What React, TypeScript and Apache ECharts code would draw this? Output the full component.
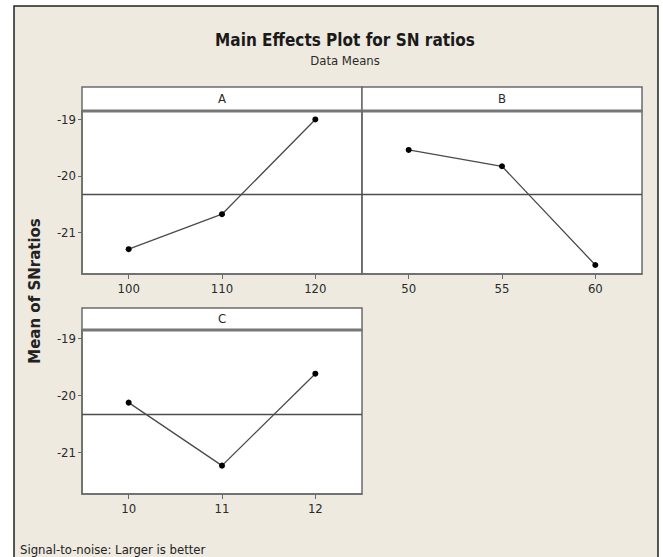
import React, { useEffect, useRef } from "react";
import * as echarts from "echarts";

const levelsA = ["100", "110", "120"];
const valuesA = [-21.3, -20.68, -19.0];
const levelsB = ["50", "55", "60"];
const valuesB = [-19.54, -19.83, -21.58];
const levelsC = ["10", "11", "12"];
const valuesC = [-20.13, -21.24, -19.62];
const yTicks = [-21, -20, -19];
const overallMean = -20.33;
const panelNames = ["A", "B", "C"];

const FONT = '"DejaVu Sans Condensed", "Liberation Sans Narrow", "DejaVu Sans", sans-serif';
const BG = "#EEEAE0";
const FRAME = "#6b6b6b";

export default function App() {
  const ref = useRef<HTMLDivElement>(null);
  useEffect(() => {
    if (!ref.current) return;
    const chart = echarts.init(ref.current, null, { renderer: "svg" });
    const grids = [
      { left: 82, top: 111, width: 280, height: 163 },
      { left: 362, top: 111, width: 280, height: 163 },
      { left: 82, top: 330, width: 280, height: 164 },
    ];
    const levels = [levelsA, levelsB, levelsC];
    const values = [valuesA, valuesB, valuesC];
    const strips = [
      { x: 82, y: 87, w: 280, h: 24 },
      { x: 362, y: 87, w: 280, h: 24 },
      { x: 82, y: 308, w: 280, h: 22 },
    ];
    const option: any = {
      animation: false,
      backgroundColor: "#ffffff",
      title: [
        {
          text: "Main Effects Plot for SN ratios",
          subtext: "Data Means",
          left: 340,
          textAlign: "center",
          top: 26,
          itemGap: 6,
          textStyle: { fontFamily: FONT, fontSize: 17, fontWeight: "bold", color: "#1a1a1a" },
          subtextStyle: { fontFamily: FONT, fontSize: 13, color: "#2a2a2a" },
        },
        {
          text: "Signal-to-noise: Larger is better",
          left: 15,
          top: 538,
          textStyle: { fontFamily: FONT, fontSize: 13, fontWeight: "normal", color: "#222" },
        },
      ],
      grid: grids.map((g) => ({
        ...g,
        show: true,
        backgroundColor: "#ffffff",
        borderColor: FRAME,
        borderWidth: 1.5,
        containLabel: false,
      })),
      xAxis: levels.map((lv, i) => ({
        type: "category",
        gridIndex: i,
        data: lv,
        boundaryGap: true,
        axisLine: { show: true, lineStyle: { color: FRAME, width: 1.5 } },
        axisTick: { show: true, alignWithLabel: true, length: 5, lineStyle: { color: FRAME } },
        axisLabel: { fontFamily: FONT, fontSize: 13, color: "#2a2a2a", margin: 8 },
        splitLine: { show: false },
      })),
      yAxis: levels.map((_, i) => ({
        type: "value",
        gridIndex: i,
        min: -21.74,
        max: -18.85,
        axisLine: { show: true, lineStyle: { color: FRAME, width: 1.5 } },
        axisTick: { show: i !== 1, length: 4, customValues: yTicks, lineStyle: { color: FRAME } },
        axisLabel: { show: i !== 1, customValues: yTicks, fontFamily: FONT, fontSize: 13, color: "#2a2a2a", margin: 6 },
        splitLine: { show: false },
      })),
      series: values.map((v, i) => ({
        type: "line",
        xAxisIndex: i,
        yAxisIndex: i,
        data: v,
        symbol: "circle",
        symbolSize: 6,
        itemStyle: { color: "#000" },
        lineStyle: { color: "#4a4a4a", width: 1.3 },
        markLine: {
          silent: true,
          symbol: "none",
          label: { show: false },
          lineStyle: { color: "#4d4d4d", type: "solid", width: 1.3 },
          data: [{ yAxis: overallMean }],
        },
      })),
      graphic: [
        {
          type: "rect",
          z: -10,
          shape: { x: 14, y: 6, width: 644, height: 600 },
          style: { fill: BG, stroke: "#222", lineWidth: 1.5 },
        },
        ...strips.map((s, i) => ({
          type: "group",
          children: [
            {
              type: "rect",
              shape: { x: s.x, y: s.y, width: s.w, height: s.h },
              style: { fill: "#ffffff", stroke: FRAME, lineWidth: 1.5 },
            },
            {
              type: "line",
              shape: { x1: s.x, y1: s.y + s.h, x2: s.x + s.w, y2: s.y + s.h },
              style: { stroke: "#777", lineWidth: 3 },
            },
            {
              type: "text",
              x: s.x + s.w / 2,
              y: s.y + s.h / 2 - 1,
              style: {
                text: panelNames[i],
                fontFamily: FONT,
                fontSize: 13,
                fill: "#2a2a2a",
                textAlign: "center",
                textVerticalAlign: "middle",
              },
            },
          ],
        })),
        {
          type: "text",
          x: 35,
          y: 291,
          rotation: Math.PI / 2,
          style: {
            text: "Mean of SNratios",
            fontFamily: '"DejaVu Sans", sans-serif',
            fontSize: 15,
            fontWeight: "bold",
            fill: "#222",
            textAlign: "center",
            textVerticalAlign: "middle",
          },
        },
      ],
    };
    chart.setOption(option);
    return () => chart.dispose();
  }, []);
  return (
    <div
      ref={ref}
      style={{ position: "absolute", left: 0, top: 0, width: 663, height: 557 }}
    />
  );
}
